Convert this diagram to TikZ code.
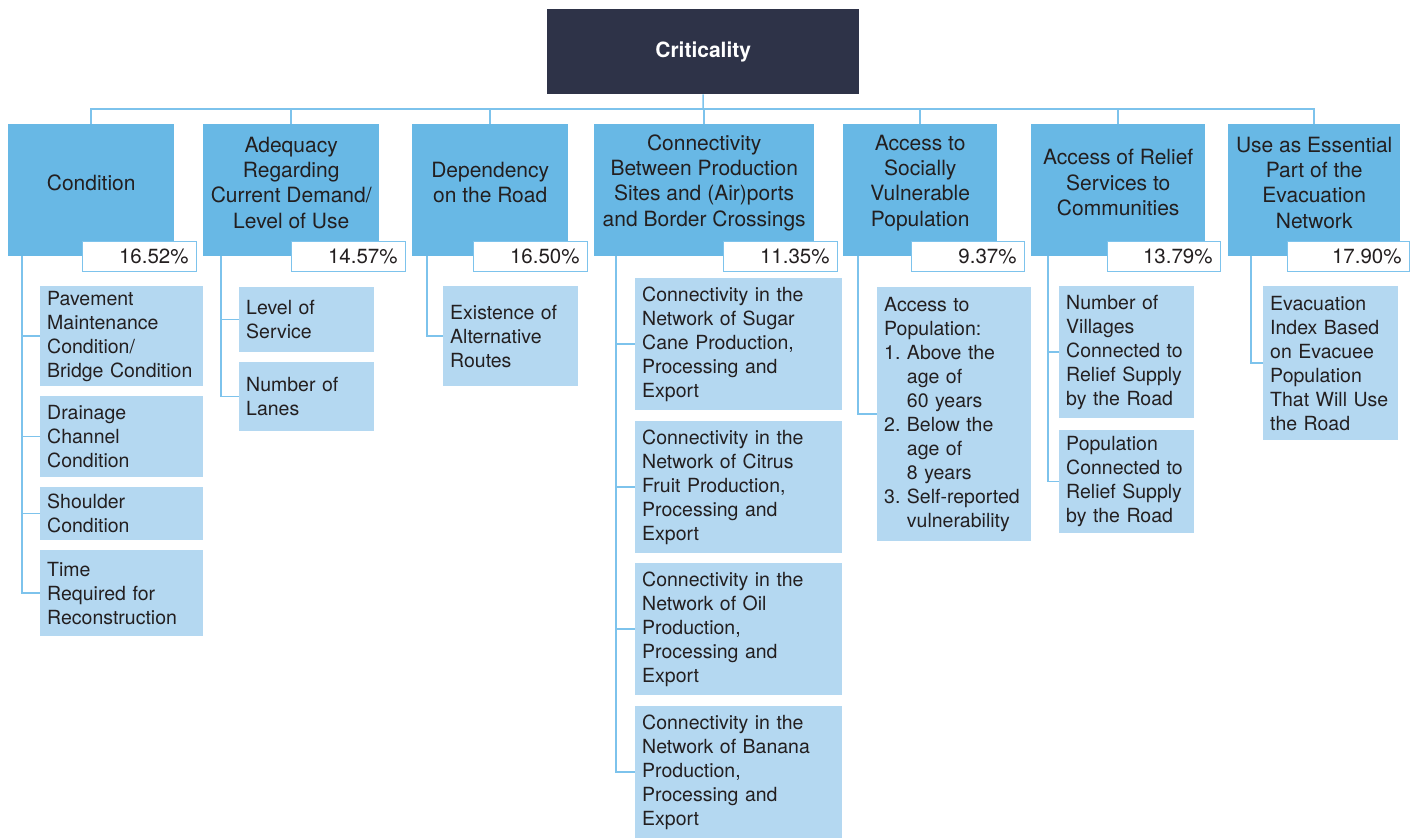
\documentclass[tikz,border=0pt]{standalone}
\usepackage{fontspec}
\setmainfont{TeX Gyre Heros}
\usetikzlibrary{positioning}
\definecolor{critfill}{HTML}{2E3348}
\definecolor{catfill}{HTML}{68B8E5}
\definecolor{subfill}{HTML}{B4D8F1}
\definecolor{linkcol}{HTML}{7DC3EC}
\definecolor{txt}{HTML}{231F20}
\frenchspacing

\begin{document}
\begin{tikzpicture}[x=1pt, y=-1pt,
    link/.style={draw=linkcol, line width=1.5pt},
    crit/.style={fill=critfill, text=white, font=\fontsize{21}{25}\selectfont\bfseries, inner sep=0pt, anchor=north west},
    cat/.style={fill=catfill, text=txt, align=center, font=\fontsize{21}{25.3}\selectfont, inner sep=0pt, minimum height=117pt, anchor=north west},
    pct/.style={draw=linkcol, line width=1.2pt, fill=white, text=txt, align=right, font=\fontsize{20.5}{24}\selectfont, inner xsep=8pt, inner ysep=0pt, minimum height=30pt, anchor=north west},
    sub/.style={fill=subfill, text=txt, align=left, font=\fontsize{19.5}{24}\selectfont, inner xsep=7pt, inner ysep=0pt, anchor=north west}]
    \useasboundingbox (0,0) rectangle (1416,838);

    % top
    \node[crit, minimum width=312pt, minimum height=85pt] (crit) at (547,9) {Criticality};

    % criteria
    \node[cat, minimum width=166pt] (c1) at (8,124)    {Condition};
    \node[cat, minimum width=176pt] (c2) at (203,124)  {Adequacy\\Regarding\\Current Demand/\\Level of Use};
    \node[cat, minimum width=156pt] (c3) at (412,124)  {Dependency\\on the Road};
    \node[cat, minimum width=220pt] (c4) at (594,124)  {Connectivity\\Between Production\\Sites and (Air)ports\\and Border Crossings};
    \node[cat, minimum width=154pt] (c5) at (843,124)  {Access to\\Socially\\Vulnerable\\Population};
    \node[cat, minimum width=174pt] (c6) at (1031,124) {Access of Relief\\Services to\\Communities};
    \node[cat, minimum width=172pt] (c7) at (1228,124) {Use as Essential\\Part of the\\Evacuation\\Network};
    \foreach \c in {c1,c2,c3,c4,c5,c6,c7}
        \fill[catfill] (\c.south west) rectangle ([yshift=-15pt]\c.south east);

    % weights
    \node[pct, text width=98pt]  (p1) at (82,241)   {16.52\%};
    \node[pct, text width=98pt]  (p2) at (291,241)  {14.57\%};
    \node[pct, text width=98pt]  (p3) at (473,241)  {16.50\%};
    \node[pct, text width=98pt]  (p4) at (723,241)  {11.35\%};
    \node[pct, text width=97pt]  (p5) at (911,241)  {9.37\%};
    \node[pct, text width=97pt]  (p6) at (1107,241) {13.79\%};
    \node[pct, text width=106pt] (p7) at (1287,241) {17.90\%};

    % indicators
    \node[sub, text width=149pt, minimum height=100pt] (a1) at (40,286) {Pavement\\Maintenance\\Condition/\\Bridge Condition};
    \node[sub, text width=149pt, minimum height=81pt]  (a2) at (40,396) {Drainage\\Channel\\Condition};
    \node[sub, text width=149pt, minimum height=53pt]  (a3) at (40,487) {Shoulder\\Condition};
    \node[sub, text width=149pt, minimum height=86pt]  (a4) at (40,550) {Time\\Required for\\Reconstruction};

    \node[sub, text width=121pt, minimum height=65pt]  (b1) at (239,287) {Level of\\Service};
    \node[sub, text width=121pt, minimum height=69pt]  (b2) at (239,362) {Number of\\Lanes};

    \node[sub, text width=121pt, minimum height=100pt] (d1) at (443,286) {Existence of\\Alternative\\Routes};

    \node[sub, text width=193pt, minimum height=132pt] (e1) at (635,278) {Connectivity in the\\Network of Sugar\\Cane Production,\\Processing and\\Export};
    \node[sub, text width=193pt, minimum height=132pt] (e2) at (635,421) {Connectivity in the\\Network of Citrus\\Fruit Production,\\Processing and\\Export};
    \node[sub, text width=193pt, minimum height=132pt] (e3) at (635,563) {Connectivity in the\\Network of Oil\\Production,\\Processing and\\Export};
    \node[sub, text width=193pt, minimum height=132pt] (e4) at (635,706) {Connectivity in the\\Network of Banana\\Production,\\Processing and\\Export};

    \node[sub, text width=140pt, minimum height=254pt] (f1) at (877,287) {Access to\\Population:\\1. Above the\\\phantom{1.\ }age of\\\phantom{1.\ }60 years\\2. Below the\\\phantom{2.\ }age of\\\phantom{2.\ }8 years\\3. Self-reported\\\phantom{3.\ }vulnerability};

    \node[sub, text width=121pt, minimum height=132pt] (g1) at (1059,286) {Number of\\Villages\\Connected to\\Relief Supply\\by the Road};
    \node[sub, text width=121pt, minimum height=103pt] (g2) at (1059,430) {Population\\Connected to\\Relief Supply\\by the Road};

    \node[sub, text width=121pt, minimum height=154pt] (h1) at (1263,286) {Evacuation\\Index Based\\on Evacuee\\Population\\That Will Use\\the Road};

    % tree lines
    \coordinate (bus) at (703,109);
    \draw[link] (crit.south) -- (bus);
    \foreach \c in {c1,c2,c3,c4,c5,c6,c7}
        \draw[link] (bus) -| (\c.north);

    \coordinate (s1) at (22,256);
    \coordinate (s2) at (221,256);
    \coordinate (s3) at (427,256);
    \coordinate (s4) at (616,256);
    \coordinate (s5) at (858,256);
    \coordinate (s6) at (1048,256);
    \coordinate (s7) at (1251,256);
    \draw[link] (s1) |- (a1.west) (s1) |- (a2.west) (s1) |- (a3.west) (s1) |- (a4.west)
                (s2) |- (b1.west) (s2) |- (b2.west)
                (s3) |- (d1.west)
                (s4) |- (e1.west) (s4) |- (e2.west) (s4) |- (e3.west) (s4) |- (e4.west)
                (s5) |- (f1.west)
                (s6) |- (g1.west) (s6) |- (g2.west)
                (s7) |- (h1.west);
\end{tikzpicture}
\end{document}
